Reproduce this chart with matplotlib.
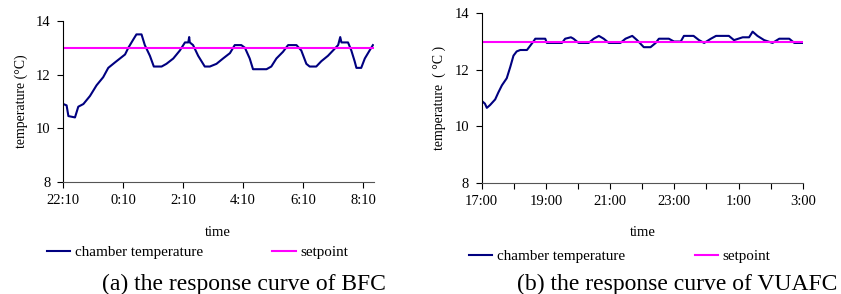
import matplotlib
matplotlib.use("Agg")
import matplotlib.pyplot as plt

plt.rcParams["font.family"] = ["Liberation Serif", "DejaVu Sans"]

# (a) BFC: hours after 22:10
bfc_t = [0.0, 0.11, 0.17, 0.39, 0.5, 0.67, 0.89, 1.11, 1.33, 1.5, 1.72, 1.89, 2.06, 2.17,
         2.33, 2.44, 2.61, 2.72, 2.89, 3.02, 3.28, 3.44, 3.67, 3.89, 4.06, 4.17, 4.2, 4.22,
         4.33, 4.5, 4.72, 4.89, 5.11, 5.33, 5.56, 5.72, 5.94, 6.06, 6.22, 6.33, 6.78, 6.94,
         7.11, 7.33, 7.5, 7.78, 7.94, 8.11, 8.22, 8.44, 8.61, 8.83, 9.0, 9.17, 9.24, 9.28,
         9.33, 9.5, 9.61, 9.72, 9.78, 9.94, 10.06, 10.22, 10.33]
bfc_temp = [10.9, 10.85, 10.45, 10.4, 10.8, 10.9, 11.2, 11.6, 11.9, 12.25, 12.45, 12.6, 12.75, 13.0,
            13.3, 13.5, 13.5, 13.1, 12.7, 12.3, 12.3, 12.4, 12.6, 12.9, 13.2, 13.2, 13.4, 13.2,
            13.1, 12.7, 12.3, 12.3, 12.4, 12.6, 12.8, 13.1, 13.1, 13.0, 12.6, 12.2, 12.2, 12.3,
            12.6, 12.85, 13.1, 13.1, 12.9, 12.4, 12.3, 12.3, 12.5, 12.7, 12.9, 13.1, 13.4, 13.2,
            13.2, 13.2, 12.9, 12.5, 12.25, 12.25, 12.6, 12.9, 13.1]
bfc_ticks = ["22:10", "0:10", "2:10", "4:10", "6:10", "8:10"]

# (b) VUAFC: hours after 17:00
vua_t = [0.0, 0.1, 0.16, 0.26, 0.42, 0.52, 0.63, 0.78, 0.89, 0.99, 1.09, 1.2, 1.41, 1.51,
         1.61, 1.67, 1.98, 2.03, 2.5, 2.6, 2.78, 2.86, 3.02, 3.33, 3.49, 3.65, 3.8, 3.96,
         4.32, 4.48, 4.69, 4.84, 5.05, 5.26, 5.42, 5.52, 5.83, 5.99, 6.2, 6.3, 6.6, 6.77,
         6.93, 7.14, 7.3, 7.7, 7.86, 8.13, 8.33, 8.44, 8.59, 8.8, 9.06, 9.27, 9.58, 9.74, 10.0]
vua_temp = [10.9, 10.8, 10.65, 10.75, 10.95, 11.2, 11.45, 11.7, 12.1, 12.5, 12.65, 12.7, 12.7, 12.85,
            13.0, 13.1, 13.1, 12.95, 12.95, 13.1, 13.15, 13.1, 12.95, 12.95, 13.1, 13.2, 13.1, 12.95,
            12.95, 13.1, 13.2, 13.05, 12.8, 12.8, 12.95, 13.1, 13.1, 13.0, 13.0, 13.2, 13.2, 13.05,
            12.95, 13.1, 13.2, 13.2, 13.05, 13.15, 13.15, 13.35, 13.2, 13.05, 12.95, 13.1, 13.1, 12.95, 12.95]
vua_ticks = ["17:00", "", "19:00", "", "21:00", "", "23:00", "", "1:00", "", "3:00"]

setpoint = 13.0

W, H = 841, 294
fig = plt.figure(figsize=(W / 100, H / 100), dpi=100)


def px(x0, y0, x1, y1):
    return [x0 / W, 1 - y1 / H, (x1 - x0) / W, (y1 - y0) / H]


def style(ax):
    ax.spines["top"].set_visible(False)
    ax.spines["right"].set_visible(False)
    ax.spines["left"].set_color("black")
    ax.spines["bottom"].set_color("#555555")
    ax.tick_params(direction="out", length=4, width=0.8, labelsize=10.5, colors="black", pad=5)
    ax.set_ylim(8, 14)
    ax.set_yticks([8, 10, 12, 14])


ax1 = fig.add_axes(px(63.3, 21, 373.5, 181.7))
ax1.plot(bfc_t, bfc_temp, color="#000080", lw=1.5, label="chamber temperature")
ax1.axhline(setpoint, color="#FF00FF", lw=1.5, label="setpoint")
style(ax1)
ax1.set_xlim(0, 10.35)
ax1.set_xticks(range(0, 12, 2))
ax1.set_xticklabels(bfc_ticks)
ax1.set_ylabel("temperature (°C)", fontsize=10, labelpad=6)

ax2 = fig.add_axes(px(481.7, 13.3, 802.7, 182.7))
ax2.plot(vua_t, vua_temp, color="#000080", lw=1.5, label="chamber temperature")
ax2.axhline(setpoint, color="#FF00FF", lw=1.5, label="setpoint")
style(ax2)
ax2.set_xlim(0, 10)
ax2.set_xticks(range(0, 11))
ax2.set_xticklabels(vua_ticks)
ax2.set_ylabel("temperature  ( °C )", fontsize=10, labelpad=6)

fig.text(217.5 / W, 1 - 232 / H, "time", fontsize=10.5, ha="center", va="center")
fig.text(642.5 / W, 1 - 233 / H, "time", fontsize=10.5, ha="center", va="center")

for ax, x, y in [(ax1, 46.7, 252.7), (ax2, 469, 256.7)]:
    fig.legend(*ax.get_legend_handles_labels(), loc="center left",
               bbox_to_anchor=(x / W, 1 - y / H), ncol=2, frameon=False,
               fontsize=10.9, handlelength=1.55, handletextpad=0.3,
               columnspacing=4.6, borderpad=0, borderaxespad=0)

fig.text(244 / W, 1 - 284 / H, "(a) the response curve of BFC", fontsize=17, ha="center", va="center")
fig.text(677 / W, 1 - 284 / H, "(b) the response curve of VUAFC", fontsize=17, ha="center", va="center")

fig.savefig("out.png", dpi=100)
